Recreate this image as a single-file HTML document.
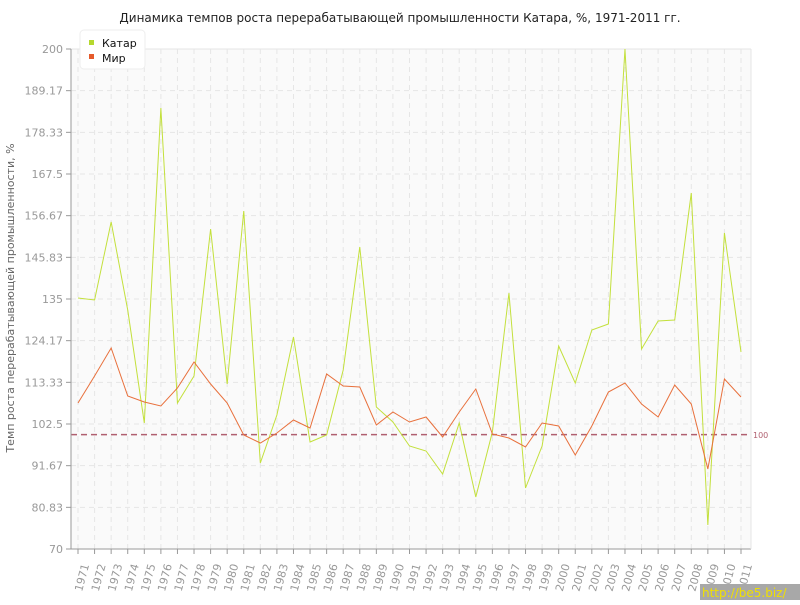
<!DOCTYPE html>
<html><head><meta charset="utf-8"><style>
body{margin:0;background:#fff;width:800px;height:600px;overflow:hidden}
svg{font-family:"DejaVu Sans","Liberation Sans",sans-serif}
</style></head><body>
<svg id="c" width="800" height="600" xmlns="http://www.w3.org/2000/svg">
<rect x="71" y="49" width="680" height="500" fill="#fafafa"/>
<line x1="71" y1="49" x2="751" y2="49" stroke="#e4e4e4"/>
<g id="grid"></g>
<line x1="71" y1="434.6" x2="751" y2="434.6" stroke="#b06070" stroke-width="1.5" stroke-dasharray="6,4"/>
<text x="753" y="438" font-size="8" fill="#b06070">100</text>
<polyline id="k" fill="none" stroke="#c3e03c" stroke-width="1"/>
<polyline id="m" fill="none" stroke="#e8703c" stroke-width="1"/>
<line x1="71" y1="49" x2="71" y2="549" stroke="#999"/>
<line x1="71" y1="549" x2="751" y2="549" stroke="#999"/>
<line x1="751" y1="49" x2="751" y2="549" stroke="#e4e4e4"/>
<g id="ax"></g>
<text x="400" y="22" font-size="12" text-anchor="middle" fill="#222">Динамика темпов роста перерабатывающей промышленности Катара, %, 1971-2011 гг.</text>
<text transform="translate(14,298) rotate(-90)" font-size="11" text-anchor="middle" fill="#666">Темп роста перерабатывающей промышленности, %</text>
<rect x="80" y="30" width="65" height="39" rx="4" fill="#fff" stroke="#eee"/>
<rect x="89" y="40" width="5" height="5" fill="#b5d82e"/>
<text x="102" y="47" font-size="11" fill="#111">Катар</text>
<rect x="89" y="54" width="5" height="5" fill="#e55a2b"/>
<text x="102" y="62" font-size="11" fill="#111">Мир</text>
<rect x="700" y="584" width="100" height="16" fill="#a8a8a8"/>
<text x="702" y="597" font-size="12" fill="#f0e000">http://be5.biz/</text>
</svg>
<script>
var ns="http://www.w3.org/2000/svg";
function el(t,a,p,txt){var e=document.createElementNS(ns,t);for(var k in a)e.setAttribute(k,a[k]);if(txt)e.textContent=txt;p.appendChild(e);return e;}
var g=document.getElementById('grid'),ax=document.getElementById('ax');
var X=function(i){return 78+16.575*i;};
for(var i=0;i<41;i++){var x=X(i);
el('line',{x1:x,y1:49,x2:x,y2:549,stroke:'#e6e6e6','stroke-dasharray':'5,4'},g);
el('line',{x1:x,y1:549,x2:x,y2:554,stroke:'#999'},ax);
el('text',{transform:'translate('+(x+4)+',592) rotate(-75)','font-size':'11',fill:'#999'},ax,String(1971+i));}
var labs=['200','189.17','178.33','167.5','156.67','145.83','135','124.17','113.33','102.5','91.67','80.83','70'];
for(var j=0;j<=12;j++){var y=49+j*500/12;
if(j>0&&j<12)el('line',{x1:71,y1:y,x2:751,y2:y,stroke:'#e6e6e6','stroke-dasharray':'5,4'},g);
el('line',{x1:66,y1:y,x2:71,y2:y,stroke:'#999'},ax);
el('text',{x:63,y:y+4,'font-size':'11',fill:'#999','text-anchor':'end'},ax,labs[j]);}
var k=[298,300,222,310,423,108,403,376,229,384,211,463,415,337,442,435,370,247,407,422,446,451,474,423,497,432,293,488,446,346,383,330,324,49,349,321,320,193,525,233,352];
var m=[403,376,348,396,402,406,388,362,384,403,435,443,433,420,428,374,386,387,425,412,422,417,437,412,389,434,438,447,423,426,455,426,392,383,404,417,385,404,469,379,397];
document.getElementById('k').setAttribute('points',k.map(function(v,i){return X(i)+','+v}).join(' '));
document.getElementById('m').setAttribute('points',m.map(function(v,i){return X(i)+','+v}).join(' '));
</script>
</body></html>
